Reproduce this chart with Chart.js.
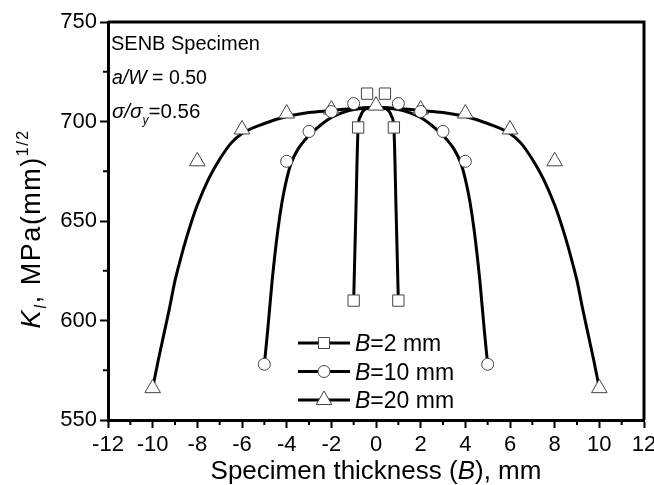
<!DOCTYPE html>
<html lang="en">
<head>
<meta charset="UTF-8">
<title>SENB Specimen - K_I through thickness</title>
<script src="https://cdn.jsdelivr.net/npm/chart.js"></script>
<style>
    html, body { margin: 0; padding: 0; background: #fff; }
    #wrap { width: 654px; height: 485px; }
</style>
</head>
<body>
<div id="wrap"><canvas id="kChart" width="654" height="485"></canvas></div>
<script>
    // Measured K_I along the crack front (position in mm, K in MPa(mm)^1/2)
    const b2X = [-1, -0.8, -0.4, 0.4, 0.8, 1];
    const b2K = [610, 697, 714, 714, 697, 610];
    const b10X = [-5, -4, -3, -2, -1, 1, 2, 3, 4, 5];
    const b10K = [578, 680, 695, 705, 709, 709, 705, 695, 680, 578];
    const b20X = [-10, -8, -6, -4, -2, 0, 2, 4, 6, 8, 10];
    const b20K = [566, 680, 696, 704, 706, 708, 706, 704, 696, 680, 566];

    // Fitted curves through each set
    const fit2X = [-1, -0.9, -0.8, -0.7, -0.6, -0.4, 0, 0.4, 0.6, 0.7, 0.8, 0.9, 1];
    const fit2K = [610, 655, 697, 702.5, 705, 706.5, 707, 706.5, 705, 702.5, 697, 655, 610];
    const fit10X = [-5, -4.85, -4.65, -4.4, -4.2, -4, -3.8, -3.5, -3, -2.5, -2, -1.5, -1, 0,
                    1, 1.5, 2, 2.5, 3, 3.5, 3.8, 4, 4.2, 4.4, 4.65, 4.85, 5];
    const fit10K = [578, 595, 620, 645, 660, 671, 679, 686, 693, 698, 702, 704.5, 706, 707,
                    706, 704.5, 702, 698, 693, 686, 679, 671, 660, 645, 620, 595, 578];
    const fit20X = [-10, -9.75, -9.5, -9.25, -9, -8.75, -8.5, -8.25, -8, -7.5, -7, -6.5, -6, -5, -4, -3, -2, -1, 0,
                    1, 2, 3, 4, 5, 6, 6.5, 7, 7.5, 8, 8.25, 8.5, 8.75, 9, 9.25, 9.5, 9.75, 10];
    const fit20K = [566, 580, 593, 606, 620, 631, 641, 650, 658, 671, 681, 689, 694, 699, 702.5, 704.5, 705.5, 706.5, 707,
                    706.5, 705.5, 704.5, 702.5, 699, 694, 689, 681, 671, 658, 650, 641, 631, 620, 606, 593, 580, 566];

    const seriesLabels = ['2 mm', '10 mm', '20 mm'];
    const xTicks = [-12, -10, -8, -6, -4, -2, 0, 2, 4, 6, 8, 10, 12];
    const yTicks = [550, 600, 650, 700, 750];

    const FONT = '"Liberation Sans", Arial, Helvetica, sans-serif';

    function pts(xs, ys) {
        return xs.map((x, i) => ({ x: x, y: ys[i] }));
    }

    function curve(xs, ys) {
        return {
            data: pts(xs, ys),
            showLine: true,
            borderColor: '#000',
            borderWidth: 3,
            pointRadius: 0,
            cubicInterpolationMode: 'monotone',
            order: 5
        };
    }

    function markers(label, xs, ys, style, r) {
        return {
            label: label,
            data: pts(xs, ys),
            showLine: false,
            pointStyle: style,
            pointRadius: r,
            pointBackgroundColor: '#fff',
            pointBorderColor: '#444',
            pointBorderWidth: 1,
            order: 1
        };
    }

    // Draws one open marker for the legend
    function legendMarker(ctx, style, x, y) {
        ctx.save();
        ctx.fillStyle = '#fff';
        ctx.strokeStyle = '#444';
        ctx.lineWidth = 1;
        ctx.beginPath();
        if (style === 'rect') {
            ctx.rect(x - 5.5, y - 5.5, 11, 11);
        } else if (style === 'circle') {
            ctx.arc(x, y, 6, 0, Math.PI * 2);
        } else {
            ctx.moveTo(x, y - 9);
            ctx.lineTo(x + 7.8, y + 4.5);
            ctx.lineTo(x - 7.8, y + 4.5);
            ctx.closePath();
        }
        ctx.fill();
        ctx.stroke();
        ctx.restore();
    }

    // Writes a run of [text, style] pieces left to right
    function runs(ctx, parts, x, y) {
        parts.forEach(p => {
            ctx.font = p.font;
            ctx.fillText(p.t, x, y + (p.dy || 0));
            x += ctx.measureText(p.t).width;
        });
        return x;
    }

    function runWidth(ctx, parts) {
        let w = 0;
        parts.forEach(p => { ctx.font = p.font; w += ctx.measureText(p.t).width; });
        return w;
    }

    const reg = s => s + 'px ' + FONT;
    const ita = s => 'italic ' + s + 'px ' + FONT;

    const decorations = {
        id: 'decorations',
        beforeDatasetsDraw(chart) {
            const { ctx, chartArea: a, scales } = chart;
            ctx.save();
            ctx.strokeStyle = '#000';
            ctx.lineWidth = 2;
            // minor ticks
            for (let v = -11; v <= 11; v += 2) {
                const px = scales.x.getPixelForValue(v);
                ctx.beginPath();
                ctx.moveTo(px, a.bottom);
                ctx.lineTo(px, a.bottom + 5);
                ctx.stroke();
            }
            for (let v = 575; v <= 725; v += 50) {
                const py = scales.y.getPixelForValue(v);
                ctx.beginPath();
                ctx.moveTo(a.left, py);
                ctx.lineTo(a.left - 5, py);
                ctx.stroke();
            }
            // top and right frame
            ctx.lineWidth = 3;
            ctx.beginPath();
            ctx.moveTo(a.left, a.top);
            ctx.lineTo(a.right, a.top);
            ctx.lineTo(a.right, a.bottom);
            ctx.stroke();
            ctx.restore();
        },
        afterDraw(chart) {
            const { ctx, chartArea: a } = chart;
            ctx.save();
            ctx.fillStyle = '#000';
            ctx.textBaseline = 'alphabetic';
            ctx.textAlign = 'left';

            // specimen notes
            runs(ctx, [{ t: 'SENB Specimen', font: reg(20) }], 111, 50);
            runs(ctx, [{ t: 'a/W', font: ita(19.5) }, { t: ' = 0.50', font: reg(19.5) }], 112, 84);
            runs(ctx, [{ t: 'σ/σ', font: ita(20.5) }, { t: 'y', font: ita(12), dy: 6 },
                       { t: '=0.56', font: reg(20.5) }], 112, 118);

            // legend: line + marker + label
            const sets = chart.data.datasets.filter(d => d.label);
            sets.forEach((d, k) => {
                const y = 343 + k * 28.5;
                ctx.strokeStyle = '#000';
                ctx.lineWidth = 3;
                ctx.beginPath();
                ctx.moveTo(298, y);
                ctx.lineTo(350, y);
                ctx.stroke();
                legendMarker(ctx, d.pointStyle, 324, y);
                ctx.fillStyle = '#000';
                runs(ctx, [{ t: 'B', font: ita(23) }, { t: '=' + d.label, font: reg(23) }], 355, y + 8);
            });

            // x axis title
            const xParts = [
                { t: 'Specimen thickness (', font: reg(26) },
                { t: 'B', font: ita(26) },
                { t: '), mm', font: reg(26) }
            ];
            const cx = (a.left + a.right) / 2;
            runs(ctx, xParts, cx - runWidth(ctx, xParts) / 2, 479);

            // y axis title, rotated
            ctx.translate(40, 229);
            ctx.rotate(-Math.PI / 2);
            ctx.letterSpacing = '1.5px';
            const yParts = [
                { t: 'K', font: ita(27) },
                { t: 'I', font: ita(16), dy: 6 },
                { t: ', MPa(mm)', font: reg(27) },
                { t: '1/2', font: reg(16), dy: -12 }
            ];
            runs(ctx, yParts, -runWidth(ctx, yParts) / 2, 0);
            ctx.restore();
        }
    };

    const ctx = document.getElementById('kChart').getContext('2d');
    const kChart = new Chart(ctx, {
        type: 'scatter',
        data: {
            datasets: [
                curve(fit20X, fit20K),
                curve(fit10X, fit10K),
                curve(fit2X, fit2K),
                markers(seriesLabels[0], b2X, b2K, 'rect', 8),
                markers(seriesLabels[1], b10X, b10K, 'circle', 6),
                markers(seriesLabels[2], b20X, b20K, 'triangle', 9)
            ]
        },
        options: {
            responsive: false,
            animation: false,
            devicePixelRatio: 1,
            layout: { padding: { top: 22, right: 9, left: 0, bottom: 0 } },
            plugins: {
                legend: { display: false },
                tooltip: { enabled: false }
            },
            scales: {
                x: {
                    type: 'linear',
                    min: -12,
                    max: 12,
                    afterBuildTicks: s => { s.ticks = xTicks.map(v => ({ value: v })); },
                    afterFit: s => {
                        s.height = 65;
                        s.paddingLeft = 0;
                        s.paddingRight = 0;
                    },
                    ticks: {
                        color: '#000',
                        font: { family: FONT, size: 22 },
                        padding: 4,
                        maxRotation: 0,
                        autoSkip: false
                    },
                    grid: {
                        drawOnChartArea: false,
                        drawTicks: true,
                        tickLength: 8,
                        tickWidth: 2,
                        tickColor: '#000'
                    },
                    border: { display: true, color: '#000', width: 3 }
                },
                y: {
                    type: 'linear',
                    min: 550,
                    max: 750,
                    afterBuildTicks: s => { s.ticks = yTicks.map(v => ({ value: v })); },
                    afterFit: s => {
                        s.width = 108;
                        s.paddingTop = 0;
                        s.paddingBottom = 0;
                    },
                    ticks: {
                        color: '#000',
                        font: { family: FONT, size: 22 },
                        padding: 3,
                        autoSkip: false
                    },
                    grid: {
                        drawOnChartArea: false,
                        drawTicks: true,
                        tickLength: 8,
                        tickWidth: 2,
                        tickColor: '#000'
                    },
                    border: { display: true, color: '#000', width: 3 }
                }
            }
        },
        plugins: [decorations]
    });
</script>
</body>
</html>
